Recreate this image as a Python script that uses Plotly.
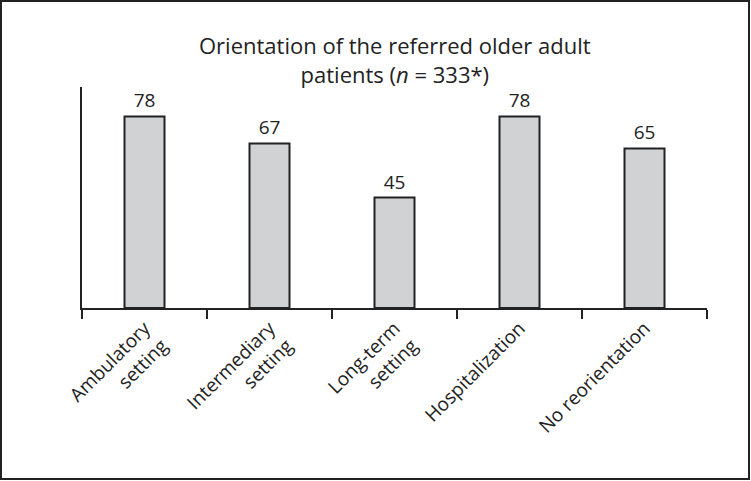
import plotly.graph_objects as go

categories = ["Ambulatory<br>setting", "Intermediary<br>setting", "Long-term<br>setting",
              "Hospitalization", "No reorientation"]
values = [78, 67, 45, 78, 65]
title_text = "Orientation of the referred older adult<br>patients (<i>n</i> = 333*)"

W, H = 751, 481
ml, mr, mt, mb = 82, 44, 87, 173
pw, ph = W - ml - mr, H - mt - mb

fig = go.Figure(go.Bar(
    x=categories, y=values, width=0.32,
    marker=dict(color="#d1d2d4", line=dict(color="#222222", width=2)),
    text=[str(v) for v in values], textposition="outside",
    textfont=dict(size=19, color="#222222"), cliponaxis=False,
))

fig.update_layout(
    width=W, height=H,
    margin=dict(l=ml, r=mr, t=mt, b=mb, autoexpand=False),
    paper_bgcolor="white", plot_bgcolor="white",
    font=dict(family="Open Sans, Noto Sans, sans-serif", color="#222222"),
    showlegend=False,
)
fig.update_xaxes(showline=True, linecolor="#222222", linewidth=1.5,
                 ticks="outside", tickson="boundaries", ticklen=9,
                 tickcolor="#222222", tickwidth=1.5, tickangle=-45,
                 tickfont=dict(size=19, color="#222222"), range=[-0.5, 4.5],
                 showgrid=False, automargin=False)
fig.update_yaxes(showline=True, linecolor="#222222", linewidth=1.5,
                 showticklabels=False, ticks="", showgrid=False, zeroline=False,
                 range=[0, 90], automargin=False)

# two-line title
fig.add_annotation(text=title_text, xref="paper", yref="paper",
                   x=0.5, y=(H - mb - 59) / ph, xanchor="center", yanchor="middle",
                   showarrow=False, font=dict(size=22, color="#222222"))

# outer border around the whole figure
fig.add_shape(type="rect", xref="paper", yref="paper",
              x0=(1 - ml) / pw, x1=(W - 2 - ml) / pw,
              y0=(H - mb - (H - 2)) / ph, y1=(H - mb - 1) / ph,
              line=dict(color="#222222", width=2), fillcolor="rgba(0,0,0,0)",
              layer="above")

fig.write_html("out.html", config={"displayModeBar": False},
               post_script="document.body.style.margin='0';document.body.style.overflow='hidden';")
